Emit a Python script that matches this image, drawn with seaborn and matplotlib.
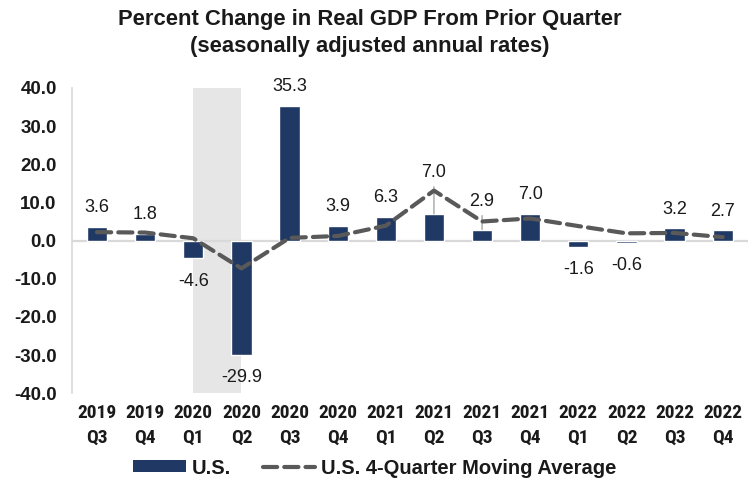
import numpy as np
import pandas as pd
import matplotlib
matplotlib.use("Agg")
import matplotlib.pyplot as plt
from matplotlib.patches import Patch
from matplotlib.lines import Line2D
import seaborn as sns

# Quarterly real GDP growth, seasonally adjusted annual rates (%)
quarters = ["2019\nQ3", "2019\nQ4", "2020\nQ1", "2020\nQ2", "2020\nQ3", "2020\nQ4",
            "2021\nQ1", "2021\nQ2", "2021\nQ3", "2021\nQ4", "2022\nQ1", "2022\nQ2",
            "2022\nQ3", "2022\nQ4"]
gdp_growth = [3.6, 1.8, -4.6, -29.9, 35.3, 3.9, 6.3, 7.0, 2.9, 7.0, -1.6, -0.6, 3.2, 2.7]
moving_avg = [2.2, 2.1, 0.6, -7.3, 0.7, 1.2, 3.9, 13.1, 5.0, 5.8, 3.8, 1.9, 2.0, 0.9]
recession_span = ("2020\nQ1", "2020\nQ2")
y_ticks = [-40, -30, -20, -10, 0, 10, 20, 30, 40]

df = pd.DataFrame({"quarter": quarters, "growth": gdp_growth, "ma": moving_avg})
df["pos"] = np.arange(len(df))

sns.set_theme(style="white")
plt.rcParams["font.family"] = ["Liberation Sans", "DejaVu Sans"]
NARROW = ["Roboto Condensed", "Liberation Sans", "DejaVu Sans"]

BAR = "#1f3864"
LINE = "#595959"
TEXT = "#1a1a1a"

fig = plt.figure(figsize=(7.5, 4.86), dpi=100)
ax = fig.add_axes([0.096, 0.191, 0.901, 0.628])

# Recession shading between the first and second quarters of 2020
x0 = quarters.index(recession_span[0])
x1 = quarters.index(recession_span[1])
ax.axvspan(x0, x1, color="#e7e6e6", zorder=0, lw=0)
ax.axhline(0, color="#d9d9d9", lw=1.6, zorder=1)

sns.barplot(data=df, x="quarter", y="growth", color=BAR, width=0.42,
            saturation=1, ax=ax, zorder=2)
sns.lineplot(data=df, x="pos", y="ma", ax=ax, color=LINE, lw=3.0, zorder=4)
ax.lines[-1].set_dashes((3.4, 1.7))
ax.lines[-1].set_dash_capstyle("round")

# Value labels; a few are lifted clear of the moving-average line
lift = {7: 29.5, 8: 20.0}
for i, v in enumerate(gdp_growth):
    off = lift.get(i, 13.7) if v >= 0 else -16.5
    ax.annotate(f"{v:.1f}", xy=(i, v), xytext=(0, off), textcoords="offset points",
                ha="center", va="center", fontsize=13, color=TEXT, zorder=5)
    if i in lift:
        ax.annotate("", xy=(i, v), xytext=(0, off - 10), textcoords="offset points",
                    arrowprops=dict(arrowstyle="-", color="#a6a6a6", lw=1.0,
                                    shrinkA=0, shrinkB=0), zorder=3)

ax.set_xlim(-0.52, len(quarters) - 0.48)
ax.set_ylim(-40, 40)
ax.set_yticks(y_ticks)
ax.set_yticklabels([f"{t:.1f}" for t in y_ticks], fontsize=13.5, fontweight="bold",
                   color=TEXT)
ax.set_xticks(range(len(quarters)))
ax.set_xticklabels(quarters, fontsize=14, fontweight="bold", color=TEXT,
                   family=NARROW, linespacing=1.45)
ax.tick_params(axis="both", length=0)
ax.tick_params(axis="y", pad=11)
ax.tick_params(axis="x", pad=8)
ax.set_xlabel("")
ax.set_ylabel("")
for s in ["top", "right", "bottom"]:
    ax.spines[s].set_visible(False)
ax.spines["left"].set_color("#d9d9d9")
ax.spines["left"].set_linewidth(1.2)

fig.text(0.493, 0.932,
         "Percent Change in Real GDP From Prior Quarter\n(seasonally adjusted annual rates)",
         ha="center", va="center", fontsize=15.8, fontweight="bold",
         color=TEXT, linespacing=1.35, multialignment="center")

handles = [Patch(facecolor=BAR, edgecolor="none"),
           Line2D([0], [0], color=LINE, lw=3.0, dashes=(3.4, 1.7),
                  dash_capstyle="round")]
leg = fig.legend(handles, ["U.S.", "U.S. 4-Quarter Moving Average"],
                 loc="center", bbox_to_anchor=(0.5, 0.037), ncol=2, frameon=False,
                 handlelength=2.6, handleheight=0.55, handletextpad=0.3,
                 columnspacing=1.6,
                 prop={"weight": "bold", "size": 14.5})
for t in leg.get_texts():
    t.set_color(TEXT)

fig.savefig("out.png", dpi=100)
